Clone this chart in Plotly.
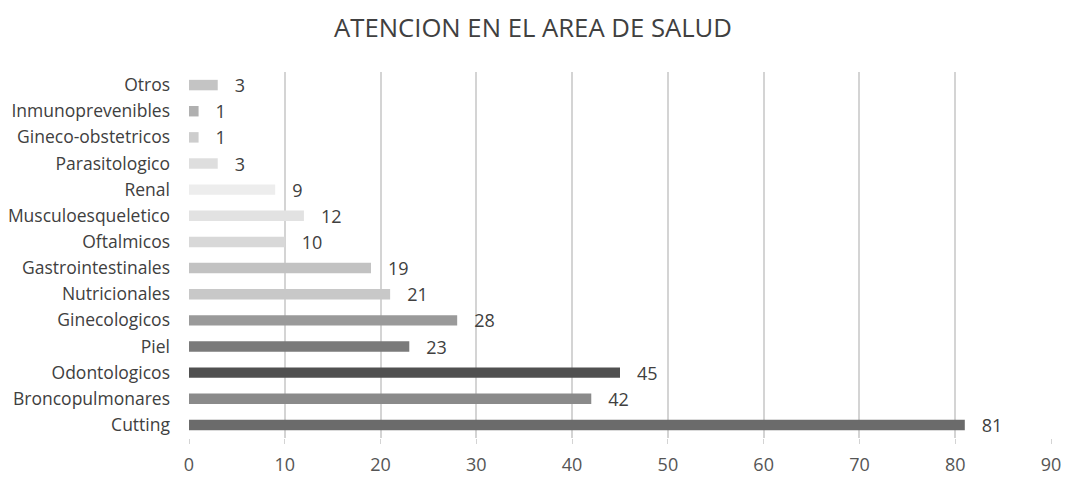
import plotly.graph_objects as go

categories = ["Cutting", "Broncopulmonares", "Odontologicos", "Piel", "Ginecologicos",
              "Nutricionales", "Gastrointestinales", "Oftalmicos", "Musculoesqueletico",
              "Renal", "Parasitologico", "Gineco-obstetricos", "Inmunoprevenibles", "Otros"]
values = [81, 42, 45, 23, 28, 21, 19, 10, 12, 9, 3, 1, 1, 3]
colors = ["#6b6b6b", "#8a8a8a", "#505050", "#7a7a7a", "#9a9a9a",
          "#c8c8c8", "#c2c2c2", "#d8d8d8", "#e2e2e2",
          "#ededed", "#dedede", "#cdcdcd", "#b0b0b0", "#c4c4c4"]
x_ticks = list(range(0, 91, 10))

fig = go.Figure(go.Bar(
    y=categories, x=values, orientation="h",
    marker=dict(color=colors, line=dict(width=0)),
    text=["   " + str(v) for v in values], textposition="outside",
    constraintext="none",
    textfont=dict(size=18, color="#404040", family="Open Sans"),
    cliponaxis=False,
))

fig.update_layout(
    width=1066, height=477,
    margin=dict(l=189, r=15, t=72, b=39),
    paper_bgcolor="white", plot_bgcolor="white",
    title=dict(text="ATENCION EN EL AREA DE SALUD", x=0.5, xanchor="center",
               y=0.941, yanchor="middle",
               font=dict(size=25.7, color="#404040", family="Open Sans")),
    bargap=0.6,
    showlegend=False,
    font=dict(family="Open Sans", color="#404040"),
)
fig.update_xaxes(range=[0, 90], tickvals=x_ticks, showgrid=True, gridcolor="#d4d4d4",
                 gridwidth=1.5, zeroline=False, ticks="outside", ticklen=5,
                 tickcolor="#d4d4d4", tickfont=dict(size=18, color="#555555"),
                 ticklabelstandoff=5, automargin=False)
fig.update_yaxes(categoryorder="array", categoryarray=categories, showgrid=False,
                 tickfont=dict(size=17.5, color="#404040"),
                 ticklabelstandoff=18, showline=False, automargin=False)

fig.write_html("out.html", config={"displayModeBar": False},
               post_script="document.body.style.margin='0';document.body.style.overflow='hidden';")
